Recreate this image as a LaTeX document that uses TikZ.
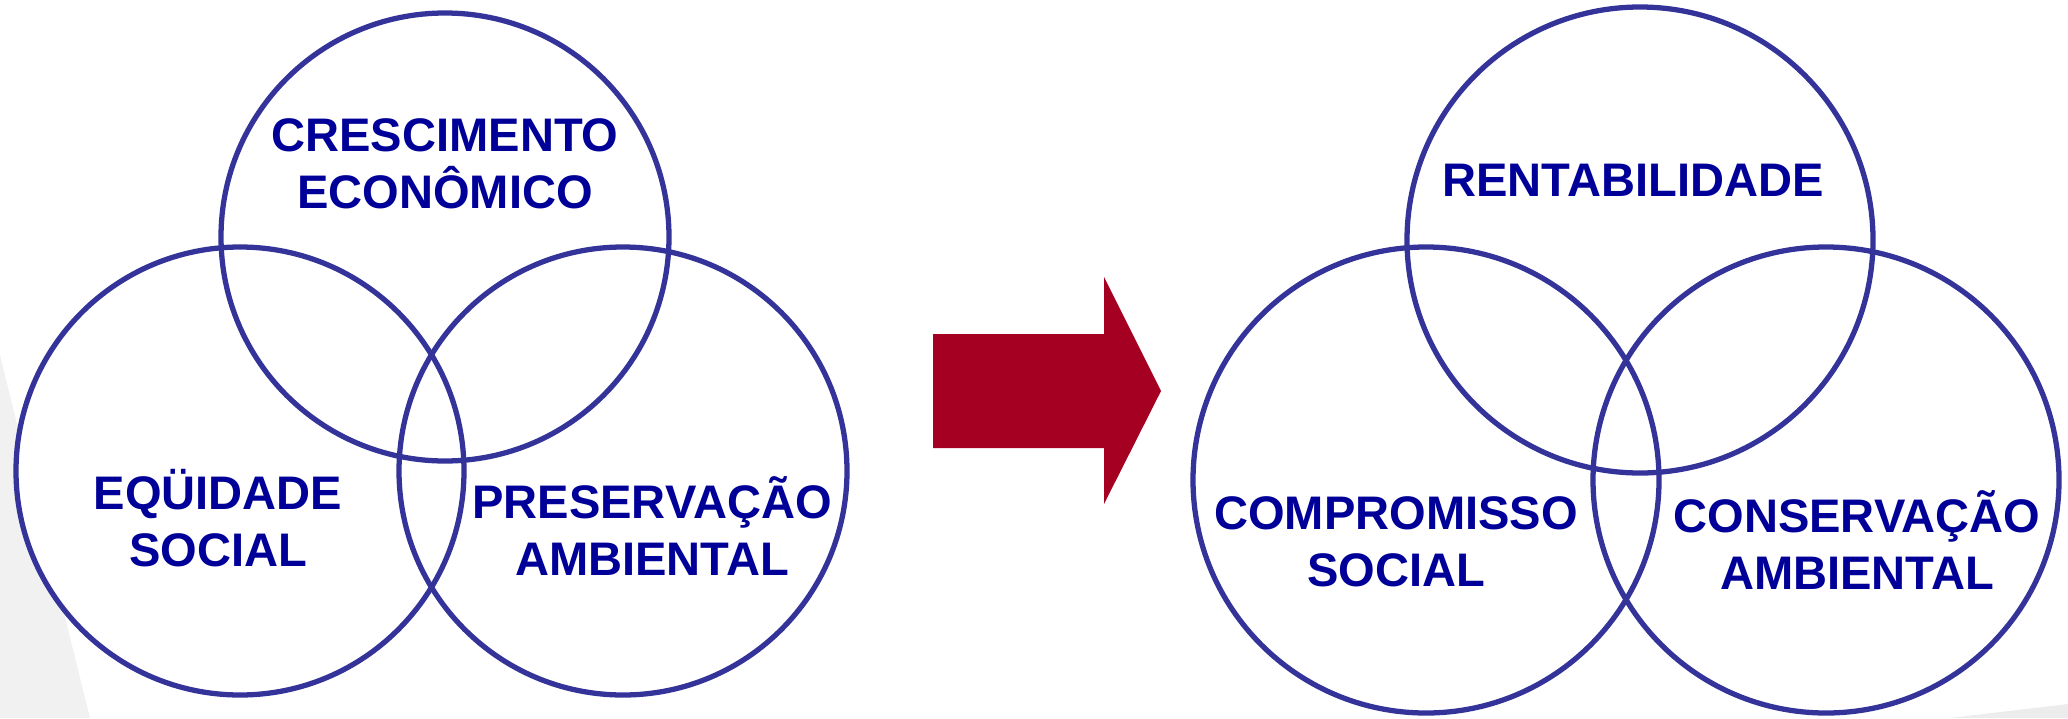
\documentclass[tikz,border=0pt]{standalone}
\usepackage{fontspec}
\setmainfont{Liberation Sans}
\definecolor{ringblue}{HTML}{333399}
\definecolor{textblue}{HTML}{000099}
\definecolor{arrowred}{HTML}{A50021}
\begin{document}
\begin{tikzpicture}[
    ring/.style={circle, draw=ringblue, line width=1.5pt, inner sep=0pt},
    small/.style={ring, minimum size=4.48cm},
    big/.style={ring, minimum size=4.66cm},
    pillar/.style={font=\fontsize{13.4pt}{16.2pt}\selectfont\bfseries, text=textblue, align=center, anchor=base, inner sep=0pt}]

\useasboundingbox (0,0) rectangle (20.68,7.18);
\fill[gray!11] (0,3.63) -- (0,0) -- (0.90,0) -- cycle;
\fill[gray!15] (19.50,0) -- (20.68,0.14) -- (20.68,0) -- cycle;

% before
\node[small, fill=white] (es) at (2.40,2.47) {};
\node[small] (ce) at (4.45,4.81) {};
\node[small] (pa) at (6.23,2.47) {};

\node[pillar] (tce) at (4.45,5.10) {CRESCIMENTO\\ECONÔMICO};
\node[pillar] (tes) at (2.18,1.52) {EQÜIDADE\\SOCIAL};
\node[pillar] (tpa) at (6.52,1.43) {PRESERVAÇÃO\\AMBIENTAL};

% arrow
\fill[arrowred] (9.33,3.84) -- (11.04,3.84) -- (11.04,4.41) -- (11.61,3.27)
    -- (11.04,2.14) -- (11.04,2.70) -- (9.33,2.70) -- cycle;

% after
\node[big] (re) at (16.40,4.78) {};
\node[big] (cs) at (14.26,2.38) {};
\node[big] (ca) at (18.26,2.38) {};

\node[pillar] (tre) at (16.33,5.215) {RENTABILIDADE};
\node[pillar] (tcs) at (13.96,1.32) {COMPROMISSO\\SOCIAL};
\node[pillar] (tca) at (18.57,1.285) {CONSERVAÇÃO\\AMBIENTAL};
\end{tikzpicture}
\end{document}
